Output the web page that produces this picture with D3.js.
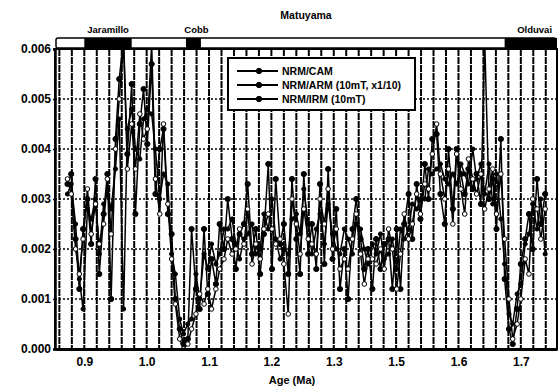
<!DOCTYPE html>
<html><head><meta charset="utf-8">
<script src="https://cdn.jsdelivr.net/npm/d3@7"></script>
<style>
body{margin:0;background:#fff}
svg{display:block}
text{font-family:"Liberation Sans",Arial,sans-serif;font-weight:bold;fill:#000}
</style>
</head><body>
<svg id="c" width="558" height="389"></svg>
<script>
// ---- data ----
const ages = [
 0.873,0.879,0.886,0.892,0.898,0.905,0.911,0.918,0.924,0.931,
 0.937,0.943,0.950,0.956,0.963,0.969,0.976,0.982,0.989,0.995,
 1.001,1.008,1.014,1.021,1.027,1.034,1.040,1.046,1.053,1.059,
 1.066,1.072,1.079,1.085,1.092,1.098,1.104,1.111,1.117,1.124,
 1.130,1.137,1.143,1.149,1.156,1.162,1.169,1.175,1.182,1.188,
 1.195,1.201,1.207,1.214,1.220,1.227,1.233,1.240,1.246,1.252,
 1.259,1.265,1.272,1.278,1.285,1.291,1.298,1.304,1.310,1.317,
 1.323,1.330,1.336,1.343,1.349,1.355,1.362,1.368,1.375,1.381,
 1.388,1.394,1.401,1.407,1.413,1.420,1.426,1.433,1.439,1.446,
 1.452,1.458,1.465,1.471,1.478,1.484,1.491,1.497,1.504,1.510,
 1.516,1.523,1.529,1.536,1.542,1.549,1.555,1.561,1.568,1.574,
 1.581,1.587,1.594,1.600,1.607,1.613,1.619,1.626,1.632,1.639
];
const nrmCam = [
 0.0033,0.0035,0.0022,0.0012,0.0024,0.0030,0.0021,0.0034,0.0015,0.0027,
 0.0035,0.0010,0.0042,0.0054,0.0062,0.0039,0.0053,0.0027,0.0045,0.0052,
 0.0041,0.0057,0.0031,0.0040,0.0044,0.0027,0.0023,0.0010,0.0004,0.0001,
 0.0002,0.0024,0.0012,0.0008,0.0024,0.0011,0.0018,0.0013,0.0025,0.0020,
 0.0030,0.0022,0.0016,0.0023,0.0025,0.0033,0.0019,0.0024,0.0015,0.0023,
 0.0037,0.0016,0.0034,0.0021,0.0025,0.0015,0.0034,0.0022,0.0015,0.0035,
 0.0019,0.0025,0.0016,0.0033,0.0017,0.0036,0.0018,0.0028,0.0012,0.0020,
 0.0010,0.0024,0.0030,0.0022,0.0016,0.0020,0.0012,0.0022,0.0016,0.0021,
 0.0022,0.0012,0.0024,0.0012,0.0025,0.0031,0.0022,0.0033,0.0026,0.0037,
 0.0030,0.0042,0.0043,0.0031,0.0025,0.0040,0.0028,0.0040,0.0035,0.0031,
 0.0036,0.0032,0.0035,0.0029,0.0062,0.0030,0.0034,0.0024,0.0042,0.0014,
 0.0004,0.0001,0.0008,0.0017,0.0022,0.0027,0.0020,0.0034,0.0025,0.0031
];
const nrmArm = [
 0.0031,0.0033,0.0025,0.0014,0.0008,0.0028,0.0026,0.0030,0.0019,0.0029,
 0.0031,0.0028,0.0036,0.0046,0.0008,0.0044,0.0048,0.0040,0.0038,0.0046,
 0.0048,0.0047,0.0040,0.0030,0.0035,0.0033,0.0019,0.0015,0.0006,0.0003,
 0.0005,0.0006,0.0015,0.0010,0.0019,0.0016,0.0021,0.0017,0.0019,0.0024,
 0.0024,0.0026,0.0021,0.0018,0.0022,0.0023,0.0025,0.0019,0.0020,0.0027,
 0.0024,0.0030,0.0022,0.0018,0.0020,0.0019,0.0026,0.0027,0.0023,0.0032,
 0.0025,0.0019,0.0024,0.0027,0.0021,0.0029,0.0023,0.0020,0.0019,0.0024,
 0.0022,0.0019,0.0025,0.0024,0.0020,0.0017,0.0021,0.0019,0.0023,0.0018,
 0.0019,0.0022,0.0016,0.0024,0.0022,0.0024,0.0029,0.0028,0.0030,0.0030,
 0.0036,0.0035,0.0036,0.0037,0.0034,0.0033,0.0035,0.0033,0.0037,0.0035,
 0.0033,0.0040,0.0034,0.0037,0.0031,0.0037,0.0029,0.0035,0.0026,0.0017,
 0.0007,0.0005,0.0011,0.0013,0.0021,0.0023,0.0029,0.0024,0.0030,0.0019
];
const nrmIrm = [
 0.0034,0.0031,0.0020,0.0015,0.0022,0.0032,0.0023,0.0029,0.0021,0.0025,
 0.0034,0.0023,0.0040,0.0050,0.0061,0.0036,0.0045,0.0036,0.0047,0.0042,
 0.0044,0.0061,0.0034,0.0027,0.0045,0.0029,0.0018,0.0009,0.0002,0.0000,
 0.0001,0.0004,0.0007,0.0011,0.0009,0.0012,0.0008,0.0012,0.0016,0.0018,
 0.0022,0.0019,0.0020,0.0024,0.0021,0.0028,0.0017,0.0021,0.0018,0.0024,
 0.0027,0.0024,0.0021,0.0022,0.0017,0.0007,0.0030,0.0025,0.0019,0.0028,
 0.0022,0.0021,0.0019,0.0030,0.0025,0.0032,0.0020,0.0024,0.0016,0.0018,
 0.0016,0.0022,0.0027,0.0019,0.0013,0.0018,0.0018,0.0017,0.0020,0.0016,
 0.0024,0.0020,0.0012,0.0019,0.0027,0.0022,0.0025,0.0031,0.0027,0.0033,
 0.0032,0.0039,0.0045,0.0035,0.0030,0.0036,0.0025,0.0039,0.0032,0.0027,
 0.0038,0.0034,0.0031,0.0035,0.0028,0.0032,0.0036,0.0027,0.0035,0.0022,
 0.0010,0.0002,0.0005,0.0010,0.0018,0.0015,0.0030,0.0028,0.0022,0.0028
];
const seriesNames = ["NRM/CAM", "NRM/ARM (10mT, x1/10)", "NRM/IRM (10mT)"];
const xTickValues = [0.9, 1.0, 1.1, 1.2, 1.3, 1.4, 1.5, 1.6];
const xTickLabels = ["0.9", "1.0", "1.1", "1.2", "1.3", "1.5", "1.6", "1.7"];
const yTickValues = [0, 0.001, 0.002, 0.003, 0.004, 0.005, 0.006];
const chronNames = ["Jaramillo", "Cobb", "Olduvai"];
const chronStart = [0.900, 1.063, 1.574];
const chronEnd = [0.976, 1.087, 1.658];
const chronTitle = "Matuyama";
const xTitle = "Age (Ma)";

// ---- layout ----
const W = 558, H = 389;
const m = {t: 49, r: 1, b: 40, l: 55};
const svg = d3.select("#c");
const x = d3.scaleLinear().domain([0.853, 1.658]).range([m.l, W - m.r]);
const y = d3.scaleLinear().domain([0, 0.006]).range([H - m.b, m.t]);

svg.append("defs").append("clipPath").attr("id", "clip")
  .append("rect").attr("x", m.l).attr("y", m.t).attr("width", W - m.r - m.l).attr("height", H - m.b - m.t);

// grid
const vgrid = d3.range(0.86, 1.6581, 0.02);
svg.append("g").selectAll("line").data(vgrid).join("line")
  .attr("x1", d => x(d)).attr("x2", d => x(d)).attr("y1", m.t).attr("y2", H - m.b)
  .attr("stroke", "#000").attr("stroke-width", 2).attr("stroke-dasharray", "7,1");
svg.append("g").selectAll("line").data(yTickValues.slice(1, -1)).join("line")
  .attr("x1", m.l).attr("x2", W - m.r).attr("y1", d => y(d)).attr("y2", d => y(d))
  .attr("stroke", "#000").attr("stroke-width", 1.5).attr("stroke-dasharray", "2,2");

// series
const series = [
  {name: seriesNames[0], vals: nrmCam, fill: "#000", r: 2.6},
  {name: seriesNames[1], vals: nrmArm, fill: "#000", r: 2.1},
  {name: seriesNames[2], vals: nrmIrm, fill: "#fff", r: 2.3}
];
const line = d3.line().x(d => x(d[0])).y(d => y(d[1]));
const plot = svg.append("g").attr("clip-path", "url(#clip)");
series.forEach(s => {
  const pts = ages.map((a, i) => [a, s.vals[i]]);
  plot.append("path").datum(pts).attr("d", line)
    .attr("fill", "none").attr("stroke", "#000").attr("stroke-width", 1.5);
});
series.forEach(s => {
  const pts = ages.map((a, i) => [a, s.vals[i]]);
  plot.append("g").selectAll("circle").data(pts).join("circle")
    .attr("cx", d => x(d[0])).attr("cy", d => y(d[1])).attr("r", s.r)
    .attr("fill", s.fill).attr("stroke", "#000").attr("stroke-width", 1);
});

// frame
svg.append("rect").attr("x", m.l).attr("y", m.t).attr("width", W - m.r - m.l).attr("height", H - m.b - m.t)
  .attr("fill", "none").attr("stroke", "#000").attr("stroke-width", 2);

// axes
const xa = svg.append("g").attr("transform", `translate(0,${H - m.b})`)
  .call(d3.axisBottom(x).tickValues(xTickValues).tickFormat((d, i) => xTickLabels[i]).tickSize(0).tickPadding(8));
xa.select(".domain").attr("stroke-width", 3);
xa.selectAll("text").attr("font-size", 12);
const ya = svg.append("g").attr("transform", `translate(${m.l},0)`)
  .call(d3.axisLeft(y).tickValues(yTickValues).tickFormat(d3.format(".3f")).tickSize(2).tickPadding(2));
ya.select(".domain").attr("stroke-width", 2.5);
ya.selectAll("line").attr("stroke-width", 1.5);
ya.selectAll("text").attr("font-size", 12);

svg.append("text").attr("x", 292).attr("y", H - 5).attr("text-anchor", "middle")
  .attr("font-size", 11).text(xTitle);

// chron bar
const barTop = m.t - 11, barH = 10;
svg.append("rect").attr("x", m.l + 1).attr("y", barTop).attr("width", W - m.r - m.l - 2).attr("height", barH)
  .attr("rx", 2).attr("fill", "#fff").attr("stroke", "#000").attr("stroke-width", 1.5);
svg.append("g").selectAll("rect").data(chronNames).join("rect")
  .attr("x", (d, i) => x(chronStart[i])).attr("y", barTop)
  .attr("width", (d, i) => x(chronEnd[i]) - x(chronStart[i])).attr("height", barH)
  .attr("fill", "#000");
svg.append("g").selectAll("text").data(chronNames).join("text")
  .attr("x", (d, i) => i === 2 ? x(chronStart[i]) + 30 : (x(chronStart[i]) + x(chronEnd[i])) / 2 + (i === 1 ? 3 : 0))
  .attr("y", barTop - 5).attr("text-anchor", "middle").attr("font-size", 9.5).text(d => d);
svg.append("text").attr("x", 306).attr("y", 19).attr("text-anchor", "middle")
  .attr("font-size", 10.5).text(chronTitle);

// legend
const lg = svg.append("g").attr("transform", "translate(228,58)");
lg.append("rect").attr("width", 187).attr("height", 52).attr("fill", "#fff")
  .attr("stroke", "#000").attr("stroke-width", 2);
series.forEach((s, i) => {
  const yy = 13 + i * 14;
  lg.append("line").attr("x1", 9).attr("x2", 50).attr("y1", yy).attr("y2", yy)
    .attr("stroke", "#000").attr("stroke-width", 1.8);
  lg.append("circle").attr("cx", 31).attr("cy", yy).attr("r", 2.7).attr("fill", "#000").attr("stroke", "#000");
  lg.append("text").attr("x", 54).attr("y", yy + 4).attr("font-size", 10.5).text(s.name);
});
</script>
</body></html>
